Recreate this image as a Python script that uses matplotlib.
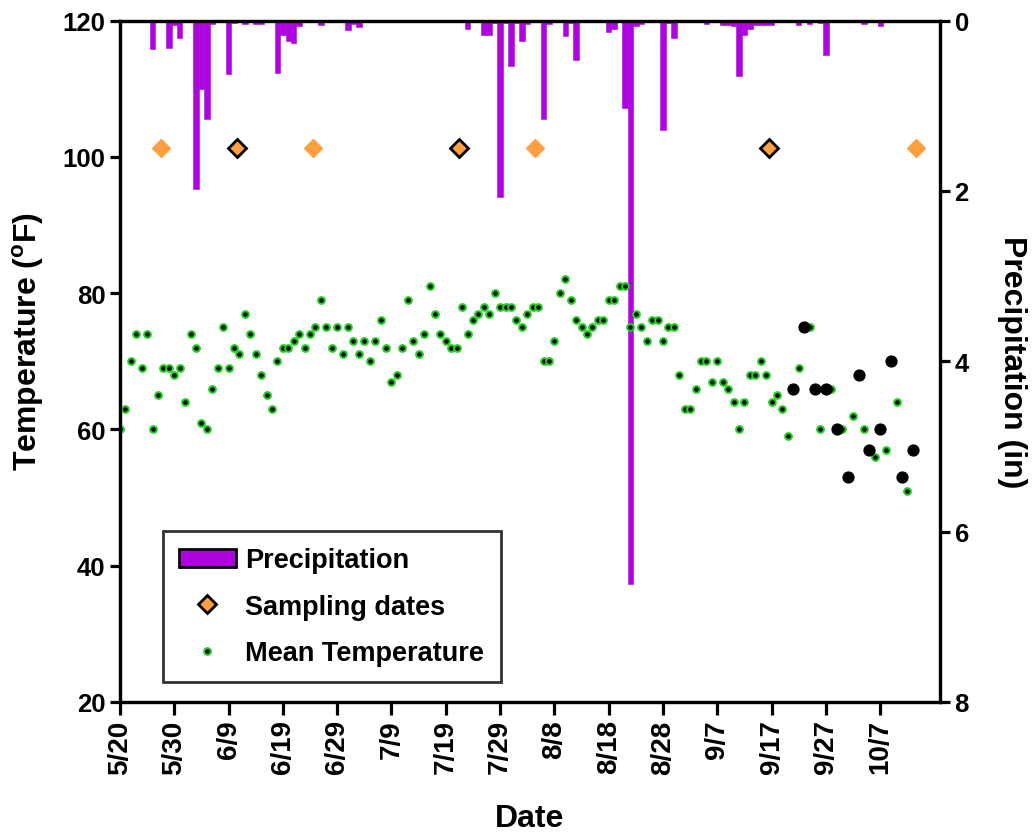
import numpy as np
import pandas as pd
import matplotlib
matplotlib.use('Agg')
import matplotlib.pyplot as plt
from matplotlib.lines import Line2D
from matplotlib.patches import Patch

plt.rcParams['font.family'] = ['Liberation Sans', 'DejaVu Sans']
plt.rcParams['font.weight'] = 'bold'
plt.rcParams['mathtext.fontset'] = 'custom'
plt.rcParams['mathtext.rm'] = 'Liberation Sans:bold'
plt.rcParams['mathtext.bf'] = 'Liberation Sans:bold'

# days are counted from 5/20
start = pd.Timestamp('2013-05-20')
tick_labels = ['5/20', '5/30', '6/9', '6/19', '6/29', '7/9', '7/19', '7/29',
               '8/8', '8/18', '8/28', '9/7', '9/17', '9/27', '10/7']

# mean temperature, one value a day from 5/20
temp = [60, 63, 70, 74, 69, 74, 60, 65, 69, 69, 68, 69, 64, 74, 72, 61, 60, 66, 69, 75,
        69, 72, 71, 77, 74, 71, 68, 65, 63, 70, 72, 72, 73, 74, 72, 74, 75, 79, 75, 72,
        75, 71, 75, 73, 71, 73, 70, 73, 76, 72, 67, 68, 72, 79, 73, 71, 74, 81, 77, 74,
        73, 72, 72, 78, 74, 76, 77, 78, 77, 80, 78, 78, 78, 76, 75, 77, 78, 78, 70, 70,
        73, 80, 82, 79, 76, 75, 74, 75, 76, 76, 79, 79, 81, 81, 75, 77, 75, 73, 76, 76,
        73, 75, 75, 68, 63, 63, 66, 70, 70, 67, 70, 67, 66, 64, 60, 64, 68, 68, 70, 68,
        64, 65, 63, 59]
# later green readings (every other day)
late_days = [125, 127, 129, 131, 133, 135, 137, 139, 141, 143, 145]
late_temp = [69, 75, 60, 66, 60, 62, 60, 56, 57, 64, 51]
# black readings
black_days = [124, 126, 128, 130, 132, 134, 136, 138, 140, 142, 144, 146]
black_temp = [66, 75, 66, 66, 60, 53, 68, 57, 60, 70, 53, 57]

# precipitation (in)
rain_days = [6, 9, 10, 11, 14, 15, 16, 17, 20, 21, 23, 25, 26, 29, 30, 31, 32, 33, 37,
             42, 43, 44, 64, 67, 68, 69, 70, 71, 72, 73, 74, 75, 78, 79, 82, 83, 84,
             90, 91, 93, 94, 95, 96, 100, 101, 102, 108, 111, 112, 113, 114, 115, 116,
             117, 118, 119, 120, 121, 122, 123, 125, 127, 129, 130, 137, 140]
rain = [0.33, 0.32, 0.05, 0.21, 1.98, 0.80, 1.16, 0.04, 0.63, 0.03, 0.04, 0.04, 0.04,
        0.62, 0.17, 0.24, 0.26, 0.07, 0.05, 0.11, 0.04, 0.08, 0.10, 0.17, 0.17, 0.03,
        2.07, 0.03, 0.53, 0.03, 0.24, 0.04, 1.16, 0.04, 0.18, 0.03, 0.46, 0.14, 0.10,
        1.03, 6.61, 0.06, 0.04, 1.29, 0.03, 0.21, 0.04, 0.05, 0.05, 0.06, 0.65, 0.17,
        0.10, 0.05, 0.05, 0.05, 0.05, 0.02, 0.02, 0.02, 0.05, 0.04, 0.03, 0.40, 0.04,
        0.07]

# sampling dates
samp_black = [21.5, 62.5, 119.5]
samp_orange = [7.5, 35.5, 76.5, 146.5]
samp_level = 101.3

purple = '#AE04E0'
green = '#22CC22'
orange = '#FFA040'

tick_days = [(pd.Timestamp('2013/' + t) - start).days for t in tick_labels]

fig = plt.figure(figsize=(10.36, 8.37), dpi=100)
ax = fig.add_axes([0.1158, 0.1601, 0.7915, 0.8142])
ax2 = ax.twinx()

ax2.bar(rain_days, rain, width=1.0, color=purple, edgecolor=purple, linewidth=0.4)
ax2.set_ylim(8, 0)
ax2.set_yticks([0, 2, 4, 6, 8])

ax.set_zorder(ax2.get_zorder() + 1)
ax.patch.set_visible(False)

ax.plot(np.arange(len(temp)), temp, 'o', ms=4.8, mfc='black', mec=green, mew=1.5)
ax.plot(late_days, late_temp, 'o', ms=4.8, mfc='black', mec=green, mew=1.5)
ax.plot(black_days, black_temp, 'o', ms=7.8, color='black', mec='black')
ax.plot(samp_orange, [samp_level] * len(samp_orange), 'D', ms=9, color=orange, mec=orange)
ax.plot(samp_black, [samp_level] * len(samp_black), 'D', ms=9, color=orange,
        mec='black', mew=2)

ax.set_xlim(0, 151)
ax.set_ylim(20, 120)
ax.set_yticks([20, 40, 60, 80, 100, 120])
ax.set_xticks(tick_days)
ax.set_xticklabels(tick_labels, rotation=90, fontsize=20, fontweight='bold')

for a in (ax, ax2):
    for s in a.spines.values():
        s.set_linewidth(2.3)
    a.tick_params(width=2.3, length=7, labelsize=18.5)
ax.tick_params(axis='x', length=9, labelsize=20)

ax.set_ylabel(r'Temperature ($^{\rm o}$F)', fontsize=23, fontweight='bold')
ax.yaxis.set_label_coords(-0.09, 0.53)
ax2.set_ylabel('Precipitation (in)', fontsize=23, fontweight='bold', rotation=270,
               va='bottom')
ax2.yaxis.set_label_coords(1.07, 0.5)
ax.set_xlabel('Date', fontsize=23, fontweight='bold')
ax.xaxis.set_label_coords(0.5, -0.148)

handles = [Patch(facecolor=purple, edgecolor='black', linewidth=2),
           Line2D([], [], marker='D', ls='none', ms=9, color=orange, mec='black', mew=2),
           Line2D([], [], marker='o', ls='none', ms=4.8, mfc='black', mec=green, mew=1.5)]
leg = ax.legend(handles, ['Precipitation', 'Sampling dates', 'Mean Temperature'],
                loc='lower left', bbox_to_anchor=(0.052, 0.029), fontsize=19.5,
                frameon=True, fancybox=False, edgecolor='black', handlelength=2.1,
                handleheight=0.65, labelspacing=0.75, borderpad=0.6, handletextpad=0.36,
                borderaxespad=0)
leg.get_frame().set_linewidth(2)

fig.savefig('out.png', dpi=100)
